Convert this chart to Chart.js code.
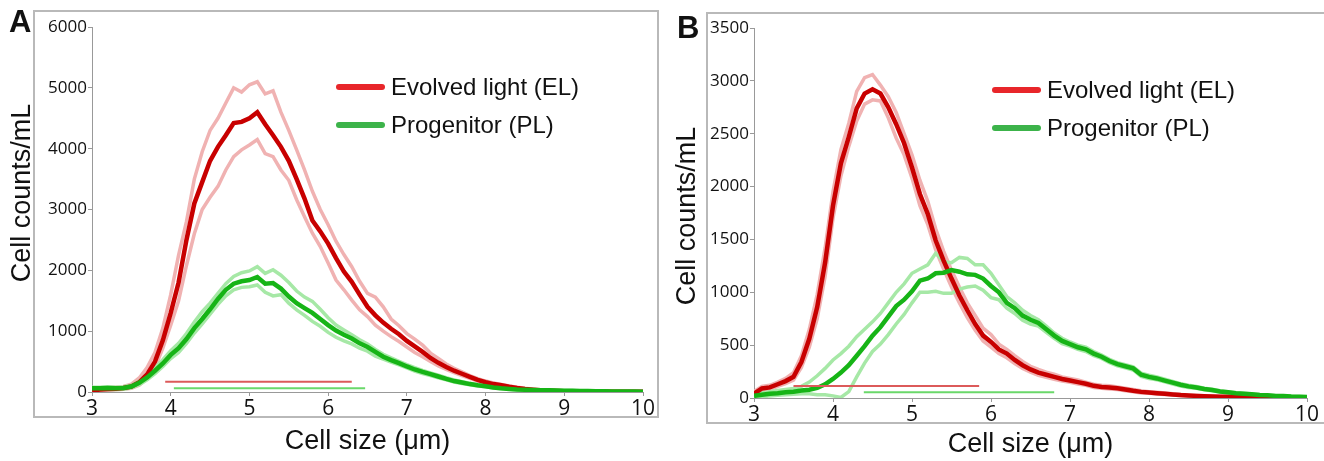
<!DOCTYPE html>
<html lang="en">
<head>
  <meta charset="UTF-8">
  <title>Cell size distributions</title>
  <script src="https://cdn.jsdelivr.net/npm/chart.js"></script>
  <style>
    body { margin: 0; background: #fff; width: 1324px; height: 461px; overflow: hidden; position: relative; font-family: "Liberation Sans", Arial, sans-serif; }
    .box { position: absolute; border: 2px solid #b9b9b9; box-sizing: border-box; }
    .panel { position: absolute; top: 0; height: 461px; }
    .letter { position: absolute; font-weight: bold; font-size: 31px; color: #111; }
    .ytitle { position: absolute; width: 300px; height: 32px; line-height: 32px; text-align: center; font-size: 27px; color: #111; transform: translate(-50%, -50%) rotate(-90deg); white-space: nowrap; }
    .legend { position: absolute; font-size: 24px; color: #111; }
    .legend div { height: 38px; line-height: 38px; white-space: nowrap; }
    .legend span.line { display: inline-block; width: 49px; height: 6px; border-radius: 3px; vertical-align: middle; margin-right: 6px; position: relative; top: -2px; }
  </style>
</head>
<body>

  <div class="box" style="left:33px; top:10px; width:626px; height:408px;"></div>
  <div class="box" style="left:706px; top:12px; width:620px; height:412px;"></div>

  <div class="panel" style="left:0; width:660px;"><canvas id="graficoA" width="660" height="461"></canvas></div>
  <div class="panel" style="left:662px; width:662px;"><canvas id="graficoB" width="662" height="461"></canvas></div>

  <div class="letter" style="left:9px; top:4px;">A</div>
  <div class="letter" style="left:677px; top:10px;">B</div>

  <div class="ytitle" style="left:21px; top:193px;">Cell counts/mL</div>
  <div class="ytitle" style="left:686px; top:216px;">Cell counts/mL</div>

  <div class="legend" style="left:336px; top:68px;">
    <div><span class="line" style="background:#e8262a"></span>Evolved light (EL)</div>
    <div><span class="line" style="background:#3cb34a"></span>Progenitor (PL)</div>
  </div>
  <div class="legend" style="left:992px; top:71px;">
    <div><span class="line" style="background:#e8262a"></span>Evolved light (EL)</div>
    <div><span class="line" style="background:#3cb34a"></span>Progenitor (PL)</div>
  </div>

<script>
  // cell size (um)
  const sizes = [3.0, 3.1, 3.2, 3.3, 3.4, 3.5, 3.6, 3.7, 3.8, 3.9,
    4.0, 4.1, 4.2, 4.3, 4.4, 4.5, 4.6, 4.7, 4.8, 4.9,
    5.0, 5.1, 5.2, 5.3, 5.4, 5.5, 5.6, 5.7, 5.8, 5.9,
    6.0, 6.1, 6.2, 6.3, 6.4, 6.5, 6.6, 6.7, 6.8, 6.9,
    7.0, 7.1, 7.2, 7.3, 7.4, 7.5, 7.6, 7.7, 7.8, 7.9,
    8.0, 8.1, 8.2, 8.3, 8.4, 8.5, 8.6, 8.7, 8.8, 8.9,
    9.0, 9.1, 9.2, 9.3, 9.4, 9.5, 9.6, 9.7, 9.8, 9.9, 10.0];

  // Panel A - evolved light (EL)
  const elMeanA = [20, 40, 50, 55, 65, 90, 160, 290, 500, 850,
    1300, 1800, 2500, 3100, 3450, 3800, 4030, 4220, 4420, 4440,
    4500, 4600, 4400, 4220, 4030, 3800, 3500, 3180, 2820, 2640,
    2440, 2200, 1980, 1810, 1600, 1400, 1260, 1140, 1040, 950,
    840, 750, 660, 560, 480, 410, 350, 300, 250, 200,
    160, 130, 110, 85, 65, 50, 38, 28, 22, 18,
    14, 12, 10, 9, 8, 7, 6, 6, 5, 5, 5];
  const elHiA = [40, 60, 70, 80, 90, 130, 230, 400, 650, 1050,
    1600, 2250, 2800, 3500, 3950, 4300, 4500, 4750, 5000, 4930,
    5050, 5100, 4900, 4950, 4600, 4300, 3980, 3650, 3300, 3000,
    2750, 2480, 2260, 2060, 1820, 1620, 1560, 1400, 1200, 1090,
    960, 870, 770, 640, 550, 460, 390, 330, 270, 220,
    180, 150, 125, 100, 80, 60, 45, 35, 28, 22,
    18, 15, 13, 12, 10, 9, 8, 8, 7, 7, 7];
  const elLoA = [5, 20, 30, 35, 45, 60, 110, 220, 400, 720,
    1100, 1500, 2080, 2600, 3000, 3200, 3380, 3650, 3870, 3980,
    4060, 4150, 3920, 3870, 3650, 3480, 3160, 2880, 2610, 2390,
    2120, 1840, 1680, 1510, 1350, 1240, 1100, 1000, 910, 830,
    740, 650, 580, 500, 430, 370, 320, 270, 225, 180,
    145, 115, 95, 75, 55, 42, 32, 24, 18, 14,
    11, 9, 8, 7, 6, 5, 5, 4, 4, 3, 3];

  // Panel A - progenitor (PL)
  const plMeanA = [60, 60, 65, 60, 65, 90, 150, 240, 350, 470,
    610, 720, 870, 1050, 1200, 1360, 1530, 1680, 1780, 1820,
    1840, 1890, 1780, 1790, 1700, 1570, 1460, 1380, 1300, 1200,
    1100, 1010, 940, 880, 800, 740, 660, 580, 525, 475,
    420, 370, 330, 295, 255, 215, 180, 155, 130, 110,
    95, 75, 60, 50, 42, 38, 34, 30, 27, 25,
    22, 20, 18, 16, 14, 12, 10, 9, 8, 7, 6];
  const plHiA = [80, 80, 85, 80, 85, 110, 180, 280, 400, 530,
    680, 800, 960, 1150, 1320, 1460, 1620, 1780, 1900, 1960,
    1990, 2060, 1950, 2010, 1920, 1800, 1660, 1560, 1490, 1360,
    1220, 1100, 1020, 940, 860, 790, 700, 620, 560, 505,
    450, 400, 355, 315, 275, 235, 200, 170, 145, 120,
    105, 85, 70, 58, 50, 44, 40, 35, 32, 29,
    26, 24, 22, 20, 18, 16, 14, 12, 11, 10, 9];
  const plLoA = [40, 40, 45, 40, 45, 70, 120, 200, 300, 420,
    550, 650, 800, 970, 1120, 1280, 1440, 1580, 1680, 1720,
    1730, 1760, 1640, 1580, 1600, 1460, 1350, 1260, 1160, 1080,
    980, 900, 840, 790, 720, 670, 590, 540, 490, 445,
    395, 345, 305, 270, 235, 200, 165, 140, 118, 100,
    85, 65, 52, 44, 36, 32, 28, 25, 22, 20,
    18, 16, 14, 12, 10, 9, 7, 6, 5, 4, 4];

  // Panel B - evolved light (EL)
  const elMeanB = [40, 90, 100, 130, 160, 200, 340, 560, 860, 1280,
    1820, 2220, 2470, 2740, 2880, 2920, 2880, 2750, 2590, 2410,
    2180, 1930, 1740, 1490, 1300, 1130, 970, 830, 700, 590,
    530, 460, 420, 360, 310, 270, 240, 220, 200, 180,
    165, 150, 135, 115, 105, 100, 92, 80, 68, 58,
    52, 46, 40, 34, 28, 24, 20, 17, 15, 13,
    11, 10, 9, 8, 7, 6, 5, 4, 3, 3, 2];
  const elHiB = [60, 110, 120, 150, 185, 240, 400, 650, 980, 1420,
    1950, 2350, 2600, 2900, 3030, 3060, 2960, 2850, 2700, 2500,
    2300, 2060, 1860, 1600, 1390, 1210, 1050, 900, 780, 660,
    600, 510, 460, 400, 345, 300, 270, 245, 225, 200,
    185, 170, 150, 130, 120, 115, 105, 92, 80, 68,
    60, 54, 48, 40, 34, 29, 25, 21, 19, 17,
    15, 13, 12, 11, 10, 9, 8, 7, 6, 5, 4];
  const elLoB = [25, 70, 80, 110, 135, 170, 290, 480, 750, 1150,
    1700, 2100, 2380, 2620, 2780, 2820, 2810, 2650, 2460, 2300,
    2080, 1820, 1640, 1400, 1220, 1050, 900, 760, 640, 540,
    480, 420, 380, 325, 280, 245, 215, 195, 178, 160,
    148, 132, 120, 100, 92, 86, 80, 68, 58, 48,
    44, 38, 32, 28, 22, 19, 16, 13, 11, 10,
    8, 7, 6, 5, 4, 4, 3, 2, 2, 1, 1];

  // Panel B - progenitor (PL)
  const plMeanB = [20, 30, 40, 45, 55, 60, 70, 78, 95, 130,
    180, 240, 310, 400, 490, 590, 670, 770, 870, 930,
    1010, 1110, 1130, 1180, 1185, 1210, 1195, 1170, 1165, 1130,
    1060, 1000, 900, 850, 780, 740, 710, 650, 590, 540,
    510, 480, 460, 420, 390, 350, 320, 300, 280, 220,
    200, 185, 165, 145, 125, 110, 100, 85, 75, 62,
    55, 45, 40, 35, 28, 25, 20, 18, 14, 12, 10];
  const plHiB = [40, 50, 60, 70, 80, 90, 110, 150, 210, 280,
    360, 420, 490, 580, 650, 720, 800, 900, 1000, 1080,
    1180, 1220, 1260, 1370, 1290, 1280, 1330, 1320, 1260, 1260,
    1180, 1070, 960, 900, 830, 780, 740, 680, 615, 565,
    530, 500, 480, 440, 405, 365, 335, 315, 295, 235,
    215, 198, 178, 157, 136, 120, 108, 93, 82, 68,
    60, 50, 45, 39, 32, 28, 23, 21, 17, 15, 13];
  const plLoB = [5, 10, 20, 25, 30, 35, 40, 40, 30, 30,
    20, 5, 60, 200, 330, 440, 510, 600, 700, 790,
    900, 1000, 1000, 1010, 990, 990, 1030, 1050, 1060, 1020,
    950, 930, 850, 800, 735, 700, 680, 620, 565, 515,
    490, 460, 440, 400, 375, 335, 305, 285, 265, 205,
    185, 172, 152, 133, 114, 100, 92, 77, 68, 56,
    50, 40, 35, 31, 24, 22, 17, 15, 11, 9, 7];

  // size range bars under the curves: [start, end] and height
  const elBarA = [3.93, 6.30];
  const elBarYA = 170;
  const plBarA = [4.04, 6.47];
  const plBarYA = 60;
  const elBarB = [3.50, 5.85];
  const elBarYB = 113;
  const plBarB = [4.39, 6.80];
  const plBarYB = 54;

  const redDark = '#c80000';
  const redLight = '#f0b2b2';
  const greenDark = '#16b416';
  const greenLight = '#a6e8a6';

  function serie(valores) {
    return sizes.map(function (s, i) { return { x: s, y: valores[i] }; });
  }

  function linha(valores, cor, largura, ordem) {
    return {
      data: serie(valores),
      borderColor: cor,
      borderWidth: largura,
      pointRadius: 0,
      tension: 0,
      fill: false,
      order: ordem
    };
  }

  function barra(intervalo, y, cor, ordem) {
    return {
      data: [{ x: intervalo[0], y: y }, { x: intervalo[1], y: y }],
      borderColor: cor,
      borderWidth: 2,
      pointRadius: 0,
      fill: false,
      order: ordem
    };
  }

  function plotar(idCanvas, d, yMax, yStep, padTop, xAxisHeight, xTitlePad) {
    const config = {
      type: 'line',
      data: {
        datasets: [
          barra(d.elBar, d.elBarY, '#dc5a5a', 0),
          barra(d.plBar, d.plBarY, '#6ad86a', 0),
          linha(d.plMean, greenDark, 4.5, 1),
          linha(d.elMean, redDark, 4.5, 2),
          linha(d.plHi, greenLight, 3.5, 3),
          linha(d.plLo, greenLight, 3.5, 3),
          linha(d.elHi, redLight, 3.5, 4),
          linha(d.elLo, redLight, 3.5, 4)
        ]
      },
      options: {
        responsive: false,
        animation: false,
        events: [],
        layout: { padding: { left: 0, top: padTop, right: 17, bottom: 0 } },
        plugins: { legend: { display: false }, tooltip: { enabled: false } },
        scales: {
          x: {
            type: 'linear',
            min: 3,
            max: 10,
            afterFit: function (scale) { scale.height = xAxisHeight; },
            ticks: {
              stepSize: 1,
              padding: 0,
              color: '#111',
              font: { family: 'Open Sans', size: 21 },
              callback: function (v) { return String(v); }
            },
            grid: { display: true, drawOnChartArea: false, drawTicks: true, tickLength: 4, color: '#999' },
            border: { display: true, color: '#999', width: 1 },
            title: {
              display: true,
              text: 'Cell size (\u03bcm)',
              color: '#111',
              font: { family: 'Liberation Sans', size: 27, lineHeight: 1.2 },
              padding: { top: 0, bottom: xTitlePad }
            }
          },
          y: {
            min: 0,
            max: yMax,
            afterFit: function (scale) { scale.width = 92; },
            ticks: {
              stepSize: yStep,
              padding: 1,
              color: '#111',
              font: { family: 'Open Sans', size: 17 },
              callback: function (v) { return String(v); }
            },
            grid: { display: true, drawOnChartArea: false, drawTicks: true, tickLength: 4, color: '#999' },
            border: { display: true, color: '#999', width: 1 },
            title: { display: false }
          }
        }
      }
    };

    new Chart(document.getElementById(idCanvas), config);
  }

  plotar('graficoA', {
    elMean: elMeanA, elHi: elHiA, elLo: elLoA,
    plMean: plMeanA, plHi: plHiA, plLo: plLoA,
    elBar: elBarA, elBarY: elBarYA, plBar: plBarA, plBarY: plBarYA
  }, 6000, 1000, 27, 69, 3);

  plotar('graficoB', {
    elMean: elMeanB, elHi: elHiB, elLo: elLoB,
    plMean: plMeanB, plHi: plHiB, plLo: plLoB,
    elBar: elBarB, elBarY: elBarYB, plBar: plBarB, plBarY: plBarYB
  }, 3500, 500, 28, 63, 0);
</script>
</body>
</html>
